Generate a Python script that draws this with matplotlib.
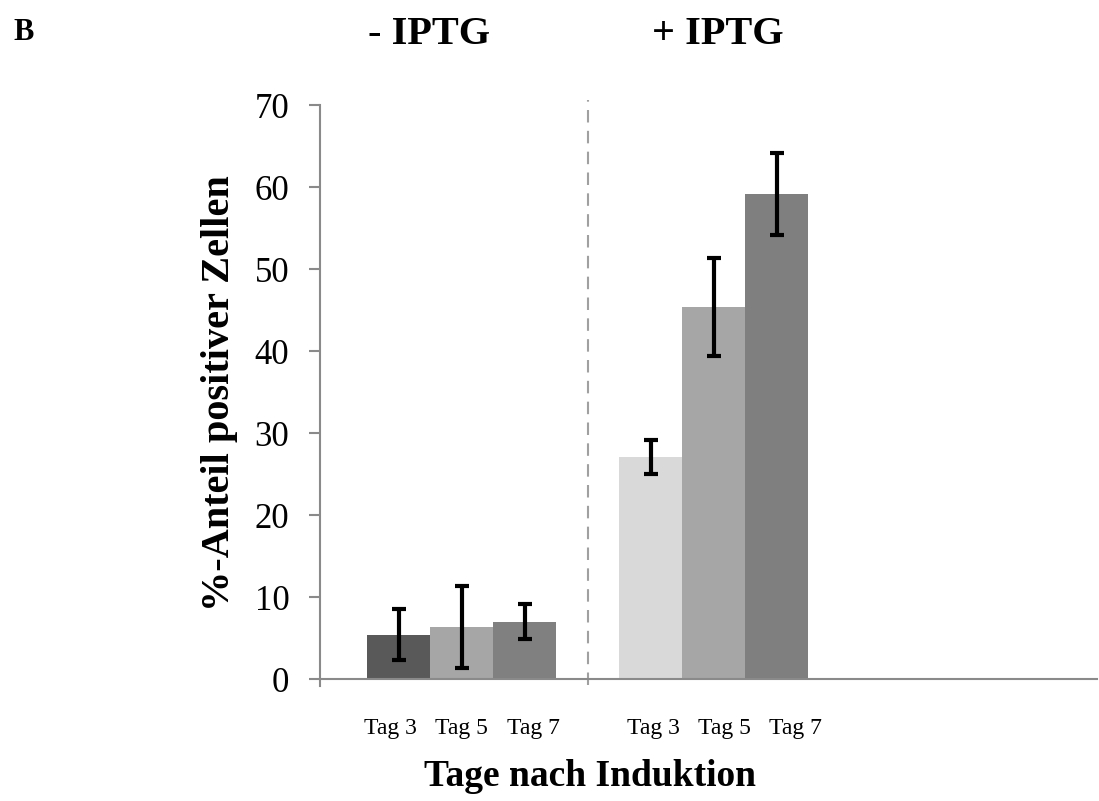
import numpy as np
import matplotlib.pyplot as plt

plt.rcParams["font.family"] = ["Liberation Serif", "DejaVu Serif"]

days = ["Tag 3", "Tag 5", "Tag 7"]
groups = ["- IPTG", "+ IPTG"]

minus_vals = [5.4, 6.4, 7.0]
minus_err = [3.1, 5.0, 2.1]
plus_vals = [27.1, 45.4, 59.1]
plus_err = [2.1, 6.0, 5.0]

minus_colors = ["#595959", "#a6a6a6", "#808080"]
plus_colors = ["#d9d9d9", "#a6a6a6", "#7f7f7f"]

W, H = 1099, 801
fig = plt.figure(figsize=(W / 100, H / 100), dpi=100)
ax = fig.add_axes([320 / W, 1 - 679 / H, (1097 - 320) / W, (679 - 105) / H])

x_minus = np.arange(3) + 1
x_plus = np.arange(3) + 5

err_kw = dict(ecolor="black", elinewidth=3, capsize=5, capthick=3)
ax.bar(x_minus, minus_vals, width=1.0, color=minus_colors, yerr=minus_err,
       error_kw=err_kw, zorder=2)
ax.bar(x_plus, plus_vals, width=1.0, color=plus_colors, yerr=plus_err,
       error_kw=err_kw, zorder=2)

ax.set_xlim(-0.25, 12.08)
ax.set_ylim(0, 70)

# dashed separator between groups
ax.plot([4, 4], [-0.7, 70.6], color="#a0a0a0", lw=1.5, ls=(0, (6, 4)),
        clip_on=False, zorder=1)

for s in ["top", "right"]:
    ax.spines[s].set_visible(False)
for s in ["left", "bottom"]:
    ax.spines[s].set_color("#8a8a8a")
    ax.spines[s].set_linewidth(1.5)

ax.set_yticks(np.arange(0, 71, 10))
ax.tick_params(axis="y", direction="out", length=8, width=1.5, color="#8a8a8a",
               labelsize=25, pad=14)

# day labels are spread a little wider than the bars
spread = np.array([-1.13, 0, 1.13])
ax.set_xticks(list(x_minus[1] + spread) + list(x_plus[1] + 0.17 + spread))
ax.set_xticklabels(days + days)
ax.tick_params(axis="x", length=0, labelsize=17, pad=28)

# small tick below the axis at the y-axis origin
ax.plot([-0.25, -0.25], [0, -0.8], color="#8a8a8a", lw=1.5, clip_on=False)

fig.text(13 / W, 1 - 33 / H, "B", fontsize=22, fontweight="bold",
         ha="left", va="center")
fig.text(429 / W, 1 - 34 / H, groups[0], fontsize=29, fontweight="bold",
         ha="center", va="center")
fig.text(718 / W, 1 - 34 / H, groups[1], fontsize=29, fontweight="bold",
         ha="center", va="center")
fig.text(220 / W, 1 - 393 / H, "%-Anteil positiver Zellen", fontsize=29,
         fontweight="bold", rotation=90, ha="center", va="center")
fig.text(590 / W, 1 - 777 / H, "Tage nach Induktion", fontsize=27,
         fontweight="bold", ha="center", va="center")

fig.savefig("out.png", dpi=100)
